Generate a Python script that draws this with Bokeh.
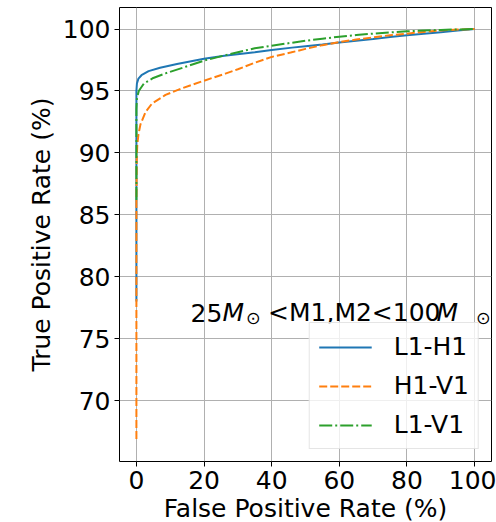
from bokeh.plotting import figure
from bokeh.models import Range1d, Label, Legend, LegendItem, FixedTicker, Title
from bokeh.embed import file_html
from bokeh.resources import INLINE

# ROC data (percent)
fpr_l1h1 = [0, 0, 0.15, 0.6, 1.5, 3.6, 7, 12, 20, 26, 35, 40, 46, 50, 55, 60, 65, 70, 75, 80, 85, 90, 95, 100]
tpr_l1h1 = [78.0, 95.0, 95.6, 96.0, 96.27, 96.6, 96.88, 97.17, 97.6, 97.85, 98.12, 98.3, 98.5, 98.62, 98.76, 98.91, 99.06, 99.2, 99.35, 99.49, 99.62, 99.75, 99.88, 100]

fpr_h1v1 = [0, 0, 0.1, 0.25, 0.6, 1.2, 2.7, 4.6, 8.6, 13.5, 20, 26.3, 30, 35.2, 40, 45.6, 50, 55, 60, 65, 70, 75, 80, 85, 90, 95, 100]
tpr_h1v1 = [66.9, 86.0, 89.5, 90.6, 91.5, 92.3, 93.3, 93.98, 94.68, 95.22, 95.83, 96.4, 96.75, 97.3, 97.75, 98.1, 98.4, 98.7, 98.95, 99.15, 99.33, 99.5, 99.63, 99.77, 99.89, 99.96, 100]

fpr_l1v1 = [0, 0, 0.15, 0.7, 2.2, 5, 8.6, 14.5, 20, 26.3, 35, 40, 45.6, 50, 55, 60, 65, 70, 75, 80, 85, 90, 95, 100]
tpr_l1v1 = [86.2, 93.5, 94.4, 95.0, 95.6, 96.05, 96.42, 96.95, 97.45, 97.89, 98.45, 98.65, 98.88, 99.05, 99.22, 99.38, 99.52, 99.63, 99.73, 99.82, 99.88, 99.93, 99.97, 100]

series_names = ["L1-H1", "H1-V1", "L1-V1"]
x_ticks = [0, 20, 40, 60, 80, 100]
y_ticks = [70, 75, 80, 85, 90, 95, 100]
x_title = "False Positive Rate (%)"
y_title = "True Positive Rate (%)"

FONT = "DejaVu Sans"
FS = "25px"

p = figure(width=496, height=522, output_backend="svg", toolbar_location=None,
           x_range=Range1d(-5, 105), y_range=Range1d(65.08, 101.74),
           min_border_left=119, min_border_right=5, min_border_top=7, min_border_bottom=58)
p.background_fill_color = "white"
p.border_fill_color = "white"
p.outline_line_color = "black"
p.outline_line_width = 1

for ax in (p.xaxis[0], p.yaxis[0]):
    ax.major_label_text_font = FONT
    ax.major_label_text_font_size = FS
    ax.major_label_text_color = "black"
    ax.axis_label_text_font = FONT
    ax.axis_label_text_font_size = FS
    ax.axis_label_text_font_style = "normal"
    ax.axis_label_text_color = "black"
    ax.major_tick_line_color = "black"
    ax.major_tick_out = 5
    ax.major_tick_in = 0
    ax.minor_tick_line_color = None
    ax.axis_line_color = None
    ax.major_label_standoff = 4
    ax.axis_label_standoff = 4

p.xaxis.ticker = FixedTicker(ticks=x_ticks)
p.yaxis.ticker = FixedTicker(ticks=y_ticks)
p.yaxis.axis_label = y_title

p.xgrid.ticker = FixedTicker(ticks=x_ticks)
p.ygrid.ticker = FixedTicker(ticks=y_ticks)
p.grid.grid_line_color = "#b0b0b0"
p.grid.grid_line_width = 1

r1 = p.line(fpr_l1h1, tpr_l1h1, line_color="#1f77b4", line_width=2)
r2 = p.line(fpr_h1v1, tpr_h1v1, line_color="#ff7f0e", line_width=2, line_dash="8 3")
r3 = p.line(fpr_l1v1, tpr_l1v1, line_color="#2ca02c", line_width=2, line_dash="13 3 2 3")

legend = Legend(items=[LegendItem(label=series_names[0], renderers=[r1]),
                       LegendItem(label=series_names[1], renderers=[r2]),
                       LegendItem(label=series_names[2], renderers=[r3])],
                location="bottom_right")
legend.margin = 12
legend.padding = 9
legend.spacing = 10
legend.glyph_width = 53
legend.glyph_height = 28
legend.label_height = 28
legend.label_standoff = 22
legend.label_text_font = FONT
legend.label_text_font_size = FS
legend.label_text_color = "black"
legend.border_line_color = "#cccccc"
legend.border_line_width = 1
legend.background_fill_color = "white"
legend.background_fill_alpha = 0.8
p.add_layout(legend, "center")

# x-axis title below the tick labels
xt = Title(text=x_title, align="center", text_font=FONT, text_font_size=FS,
           text_font_style="normal", text_color="black", standoff=0, offset=0)
p.add_layout(xt, "below")

# annotation: 25 M_sun < M1,M2 < 100 M_sun
ann_x, ann_y = 16.0, 77.1
pieces = [("25", 0, 0, "normal", FS),
          ("M", 32, 0, "italic", FS),
          ("\u2299", 55.5, -5, "normal", "17.5px"),
          ("<M1,M2<100", 77.5, 0, "normal", FS),
          ("M", 246, 0, "italic", FS),
          ("\u2299", 285.5, -5, "normal", "17.5px")]
for txt, dx, dy, style, size in pieces:
    p.add_layout(Label(x=ann_x, y=ann_y, x_units="data", y_units="data", text=txt,
                       x_offset=dx, y_offset=dy, text_font=FONT, text_font_size=size,
                       text_font_style=style, text_color="black",
                       text_baseline="alphabetic", text_align="left"))

open("out.html", "w").write(file_html(p, INLINE))
